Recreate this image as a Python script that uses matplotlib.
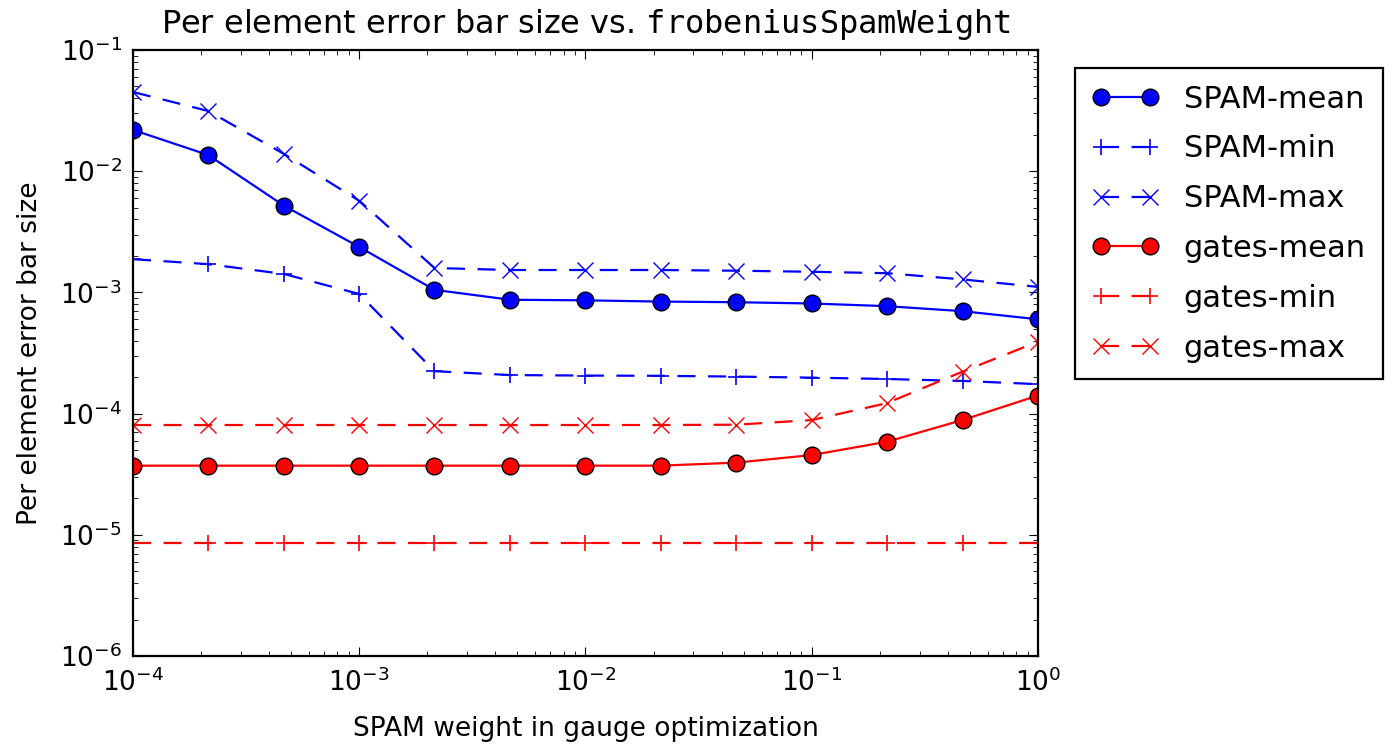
import numpy as np
import matplotlib
matplotlib.use('Agg')
import matplotlib.pyplot as plt

plt.rcParams['font.family'] = ['DejaVu Sans']
plt.rcParams['xtick.direction'] = 'in'
plt.rcParams['ytick.direction'] = 'in'
plt.rcParams['xtick.top'] = True
plt.rcParams['ytick.right'] = True
plt.rcParams['xtick.major.size'] = 6.4
plt.rcParams['ytick.major.size'] = 6.4
plt.rcParams['xtick.minor.size'] = 3.5
plt.rcParams['ytick.minor.size'] = 3.5
plt.rcParams['xtick.major.pad'] = 9
plt.rcParams['ytick.major.pad'] = 8
plt.rcParams['lines.scale_dashes'] = False

# gauge optimization SPAM weights
weights = [1e-4, 2.15e-4, 4.64e-4, 1e-3, 2.15e-3, 4.64e-3, 1e-2,
           2.15e-2, 4.64e-2, 1e-1, 2.15e-1, 4.64e-1, 1.0]

spam_mean = [2.19e-2, 1.36e-2, 5.2e-3, 2.37e-3, 1.05e-3, 8.7e-4, 8.6e-4,
             8.4e-4, 8.3e-4, 8.1e-4, 7.7e-4, 7.0e-4, 6.0e-4]
spam_min = [1.88e-3, 1.71e-3, 1.42e-3, 9.7e-4, 2.24e-4, 2.08e-4, 2.06e-4,
            2.05e-4, 2.02e-4, 1.98e-4, 1.93e-4, 1.86e-4, 1.75e-4]
spam_max = [4.5e-2, 3.14e-2, 1.39e-2, 5.7e-3, 1.59e-3, 1.53e-3, 1.53e-3,
            1.53e-3, 1.51e-3, 1.48e-3, 1.44e-3, 1.28e-3, 1.11e-3]
gates_mean = [3.72e-5, 3.72e-5, 3.72e-5, 3.72e-5, 3.72e-5, 3.72e-5, 3.72e-5,
              3.72e-5, 3.94e-5, 4.55e-5, 5.86e-5, 8.85e-5, 1.41e-4]
gates_min = [8.5e-6] * 13
gates_max = [8.05e-5, 8.05e-5, 8.05e-5, 8.05e-5, 8.05e-5, 8.05e-5, 8.05e-5,
             8.05e-5, 8.1e-5, 8.85e-5, 1.22e-4, 2.22e-4, 3.92e-4]

fig = plt.figure(figsize=(14, 7.46), dpi=100)
ax = fig.add_axes([0.095, 0.1206, 0.6464, 0.8124])

DASH = (0, (13, 9))
ax.plot(weights, spam_mean, '-o', color='#0000ff', lw=1.6, ms=12, mec='black', mew=1.0, label='SPAM-mean')
ax.plot(weights, spam_min, '+', ls=DASH, color='#0000ff', lw=1.6, ms=12, mew=1.2, label='SPAM-min')
ax.plot(weights, spam_max, 'x', ls=DASH, color='#0000ff', lw=1.6, ms=12, mew=1.0, label='SPAM-max')
ax.plot(weights, gates_mean, '-o', color='#ff0000', lw=1.6, ms=12, mec='black', mew=1.0, label='gates-mean')
ax.plot(weights, gates_min, '+', ls=DASH, color='#ff0000', lw=1.6, ms=12, mew=1.2, label='gates-min')
ax.plot(weights, gates_max, 'x', ls=DASH, color='#ff0000', lw=1.6, ms=12, mew=1.0, label='gates-max')

ax.set_xscale('log')
ax.set_yscale('log')
ax.set_xlim(1e-4, 1)
ax.set_ylim(1e-6, 1e-1)
for sp in ax.spines.values():
    sp.set_linewidth(1.6)
ax.tick_params(labelsize=19)

ax.set_xlabel('SPAM weight in gauge optimization', fontsize=19, labelpad=14)
ax.set_ylabel('Per element error bar size', fontsize=19, labelpad=12)
ax.set_title(r'Per element error bar size vs. $\mathtt{frobeniusSpamWeight}$', fontsize=23, pad=12)

leg = ax.legend(loc='upper left', bbox_to_anchor=(0.768, 0.909), bbox_transform=fig.transFigure,
                numpoints=2, fontsize=22, fancybox=False, framealpha=1, borderaxespad=0,
                handlelength=2.2, labelspacing=0.68, borderpad=0.55)
leg.get_frame().set_edgecolor('black')
leg.get_frame().set_linewidth(1.6)

plt.savefig('out.png', dpi=100)
